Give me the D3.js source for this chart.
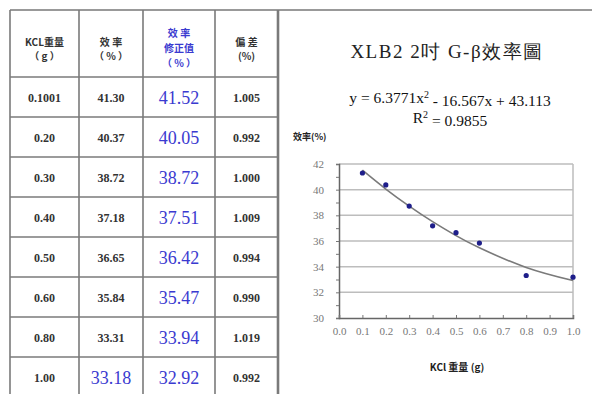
<!DOCTYPE html>
<html><head><meta charset="utf-8">
<script src="https://cdn.jsdelivr.net/npm/d3@7"></script>
<style>body{margin:0;background:#fff}svg{display:block}</style>
</head><body>
<svg id="c" width="592" height="394"></svg>
<script>
// ---- data ----
const kclLabels = ["0.1001","0.20","0.30","0.40","0.50","0.60","0.80","1.00"];
const kcl = [0.1001,0.20,0.30,0.40,0.50,0.60,0.80,1.00];
const efficiency = [41.30,40.37,38.72,37.18,36.65,35.84,33.31,33.18];
const effLabels = ["41.30","40.37","38.72","37.18","36.65","35.84","33.31","33.18"];
const corrected = [41.52,40.05,38.72,37.51,36.42,35.47,33.94,32.92];
const corrLabels = ["41.52","40.05","38.72","37.51","36.42","35.47","33.94","32.92"];
const deviation = ["1.005","0.992","1.000","1.009","0.994","0.990","1.019","0.992"];
const effHighlight = [false,false,false,false,false,false,false,true];
const headers = [["KCL重量","（ g ）"],["效 率","（ % ）"],["效 率","修正值","（ % ）"],["偏 差","(%)"]];
const yTicks = [30,32,34,36,38,40,42];
const xTicks = [0,0.1,0.2,0.3,0.4,0.5,0.6,0.7,0.8,0.9,1.0];
const title = "XLB2 2吋 G-β效率圖";
const yTitle = "效率(%)";
const xTitle = "KCl 重量 (g)";

const svg = d3.select("#c");
const CJK = "'Noto Sans CJK TC','Noto Sans CJK SC',sans-serif";
const SERIF = "'Liberation Serif','DejaVu Serif',serif";
const BLUE = "#3a3ad0";

// ---- table ----
const colX = [10,79,143,215,278];
const rowY = d3.range(kcl.length + 1).map(i => 77 + i*40);
const lineC = "#7a7a7a";
svg.append("line").attr("x1",10).attr("x2",592).attr("y1",10).attr("y2",10).attr("stroke","#999").attr("stroke-width",2);
rowY.forEach(y => svg.append("line").attr("x1",10).attr("x2",278).attr("y1",y).attr("y2",y).attr("stroke",lineC).attr("stroke-width",1.6));
colX.forEach((x,i) => svg.append("line").attr("x1",x).attr("x2",x).attr("y1",10).attr("y2",394)
  .attr("stroke",lineC).attr("stroke-width", i===4 ? 2.6 : 1.6));

const colC = colX.slice(0,4).map((x,i)=> (x+colX[i+1])/2);
headers.forEach((h,i) => {
  const ys = h.length===3 ? [33,48,63] : [42,56];
  h.forEach((t,j) => svg.append("text").attr("x",colC[i]).attr("y",ys[j]).attr("dy","0.35em")
    .attr("text-anchor","middle").attr("font-family",CJK).attr("font-weight","bold")
    .attr("font-size",10).attr("fill", i===2 ? BLUE : "#333").text(t));
});
kcl.forEach((k,i) => {
  const cy = (rowY[i]+rowY[i+1])/2 + 1;
  const small = (x,t) => svg.append("text").attr("x",x).attr("y",cy).attr("dy","0.35em").attr("text-anchor","middle")
    .attr("font-family",SERIF).attr("font-weight","bold").attr("font-size",12).attr("fill","#333").text(t);
  const big = (x,t) => svg.append("text").attr("x",x).attr("y",cy).attr("dy","0.35em").attr("text-anchor","middle")
    .attr("font-family",SERIF).attr("font-size",18).attr("fill",BLUE).text(t);
  small(colC[0], kclLabels[i]);
  if (effHighlight[i]) big(colC[1], effLabels[i]); else small(colC[1], effLabels[i]);
  big(colC[2], corrLabels[i]);
  small(colC[3], deviation[i]);
});

// ---- chart ----
const x = d3.scaleLinear().domain([0,1]).range([339,573]);
const y = d3.scaleLinear().domain([30,42]).range([318,164]);

svg.append("text").attr("x",447).attr("y",51).attr("dy","0.35em").attr("text-anchor","middle")
  .attr("font-family",SERIF).attr("font-size",19).attr("letter-spacing",1.5).attr("fill","#222").text(title);
const eq = svg.append("text").attr("x",450).attr("y",98).attr("dy","0.35em").attr("text-anchor","middle")
  .attr("font-family",SERIF).attr("font-size",15.5).attr("fill","#111");
eq.append("tspan").text("y = 6.3771x");
eq.append("tspan").attr("font-size",10).attr("dy","-0.5em").text("2");
eq.append("tspan").attr("dy","0.5em").text(" - 16.567x + 43.113");
const r2 = svg.append("text").attr("x",450).attr("y",118).attr("dy","0.35em").attr("text-anchor","middle")
  .attr("font-family",SERIF).attr("font-size",15.5).attr("fill","#111");
r2.append("tspan").text("R");
r2.append("tspan").attr("font-size",10).attr("dy","-0.5em").text("2");
r2.append("tspan").attr("dy","0.5em").text(" = 0.9855");
svg.append("text").attr("x",293).attr("y",137).attr("dy","0.35em").attr("font-family",CJK).attr("font-weight","bold")
  .attr("font-size",9).attr("fill","#222").text(yTitle);

// gridlines
svg.append("g").selectAll("line").data(yTicks.filter(d=>d>30)).join("line")
  .attr("x1",x(0)).attr("x2",x(1)).attr("y1",d=>y(d)).attr("y2",d=>y(d))
  .attr("stroke","#bdbdbd").attr("stroke-width",1.5);
svg.append("line").attr("x1",x(1)).attr("x2",x(1)).attr("y1",y(42)).attr("y2",y(30)).attr("stroke","#bdbdbd").attr("stroke-width",1.5);

// axes
const yAxis = d3.axisLeft(y).tickValues(d3.range(30,42.01,1)).tickSize(3)
  .tickFormat(d => yTicks.includes(d) ? d3.format("d")(d) : "");
const gy = svg.append("g").attr("transform",`translate(${x(0)},0)`).call(yAxis);
gy.select(".domain").attr("stroke","#666").attr("stroke-width",1.5);
gy.selectAll(".tick line").attr("stroke","#777");
gy.selectAll("text").attr("font-family",SERIF).attr("font-size",11).attr("fill","#777").attr("x",-15);

const xAxis = d3.axisBottom(x).tickValues(xTicks).tickSize(-3).tickFormat(d3.format(".1f"));
const gx = svg.append("g").attr("transform",`translate(0,${y(30)})`).call(xAxis);
gx.select(".domain").attr("stroke","#666").attr("stroke-width",1.5);
gx.selectAll(".tick line").attr("stroke","#777");
gx.selectAll("text").attr("font-family",SERIF).attr("font-size",11).attr("fill","#777").attr("y",9);

svg.append("text").attr("x",457).attr("y",367).attr("dy","0.35em").attr("text-anchor","middle")
  .attr("font-family",CJK).attr("font-weight","bold").attr("font-size",10).attr("fill","#222").text(xTitle);

// trend curve through corrected (fitted) values
const line = d3.line().x((d,i)=>x(kcl[i])).y(d=>y(d)).curve(d3.curveNatural);
svg.append("path").attr("d", line(corrected)).attr("fill","none").attr("stroke","#7a7a7a").attr("stroke-width",1.6);

// points
svg.append("g").selectAll("circle").data(efficiency).join("circle")
  .attr("cx",(d,i)=>x(kcl[i])).attr("cy",d=>y(d)).attr("r",2.6).attr("fill","#1e1e8a");
</script>
</body></html>
